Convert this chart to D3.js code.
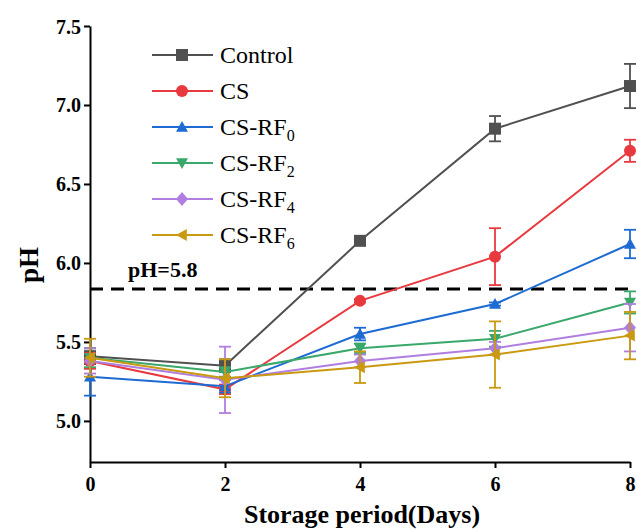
<!DOCTYPE html>
<html>
<head>
<meta charset="utf-8">
<script src="https://cdn.jsdelivr.net/npm/d3@7"></script>
<style>
  body { margin: 0; background: #fff; }
  svg text { font-family: 'Liberation Serif', 'Times New Roman', Times, 'DejaVu Serif', serif; }
</style>
</head>
<body>
<svg id="chart" width="636" height="530"></svg>
<script>
const FONT = "'Liberation Serif', 'Times New Roman', Times, 'DejaVu Serif', serif";

// storage days
const days = [0, 2, 4, 6, 8];
const seriesNames = ['Control', 'CS', 'CS-RF0', 'CS-RF2', 'CS-RF4', 'CS-RF6'];
const seriesColors = ['#505050', '#e8393f', '#1d6bd3', '#3aa86b', '#b07ee0', '#c99a10'];
const seriesSymbols = ['square', 'circle', 'up', 'down', 'diamond', 'left'];

// mean pH values
const controlPH = [5.41, 5.35, 6.14, 6.85, 7.12];
const csPH = [5.38, 5.20, 5.76, 6.04, 6.71];
const rf0PH = [5.28, 5.22, 5.55, 5.74, 6.12];
const rf2PH = [5.40, 5.31, 5.46, 5.52, 5.75];
const rf4PH = [5.38, 5.26, 5.38, 5.46, 5.59];
const rf6PH = [5.40, 5.27, 5.34, 5.42, 5.54];

// standard deviations
const controlErr = [0.05, 0.04, 0.01, 0.08, 0.14];
const csErr = [0.05, 0.03, 0.01, 0.18, 0.07];
const rf0Err = [0.12, 0.04, 0.04, 0.01, 0.09];
const rf2Err = [0.06, 0.03, 0.03, 0.05, 0.07];
const rf4Err = [0.08, 0.21, 0.04, 0.04, 0.15];
const rf6Err = [0.12, 0.12, 0.10, 0.21, 0.15];

const yTicks = [5.0, 5.5, 6.0, 6.5, 7.0, 7.5];
const xTicks = [0, 2, 4, 6, 8];
const threshold = 5.835;
const thresholdLabel = 'pH=5.8';

const allMeans = [controlPH, csPH, rf0PH, rf2PH, rf4PH, rf6PH];
const allErrs = [controlErr, csErr, rf0Err, rf2Err, rf4Err, rf6Err];

const series = seriesNames.map((name, i) => ({
  name: name,
  color: seriesColors[i],
  symbol: seriesSymbols[i],
  values: days.map((d, j) => ({ day: d, v: allMeans[i][j], e: allErrs[i][j] }))
}));

const svg = d3.select('#chart');

const x = d3.scaleLinear().domain([0, 8]).range([90, 630]);
const y = d3.scaleLinear().domain([4.74, 7.5]).range([462, 26]);

// symbol shapes
let symbolPath = (type, size) => {
  const h = size / 2;
  if (type == 'square') return `M${-h},${-h}H${h}V${h}H${-h}Z`;
  if (type == 'circle') return d3.symbol(d3.symbolCircle, Math.PI * h * h)();
  if (type == 'up') return `M0,${-h}L${h},${h * 0.8}L${-h},${h * 0.8}Z`;
  if (type == 'down') return `M0,${h}L${h},${-h * 0.8}L${-h},${-h * 0.8}Z`;
  if (type == 'diamond') return `M0,${-h * 1.15}L${h},0L0,${h * 1.15}L${-h},0Z`;
  return `M${-h},0L${h * 0.8},${-h}L${h * 0.8},${h}Z`;
};

// axes
const yAxis = svg.append('g')
  .attr('transform', 'translate(90,0)')
  .call(d3.axisLeft(y).tickValues(yTicks).tickFormat(d3.format('.1f')).tickSize(6).tickSizeOuter(0));
const xAxis = svg.append('g')
  .attr('transform', 'translate(0,462)')
  .call(d3.axisBottom(x).tickValues(xTicks).tickFormat(d3.format('d')).tickSize(6).tickSizeOuter(0));

[yAxis, xAxis].forEach(ax => {
  ax.attr('font-family', null);
  ax.select('.domain').attr('stroke', '#000').attr('stroke-width', 2);
  ax.selectAll('.tick line').attr('stroke', '#000').attr('stroke-width', 2);
  ax.selectAll('.tick text')
    .attr('fill', '#000')
    .style('font-family', FONT)
    .style('font-weight', 'bold')
    .style('font-size', '20px');
});
yAxis.selectAll('.tick text').attr('x', -9).attr('dy', '0.35em');
xAxis.selectAll('.tick text').attr('y', 15).attr('dy', '0.71em');

// axis titles
svg.append('text')
  .attr('x', 362).attr('y', 523)
  .attr('text-anchor', 'middle')
  .style('font-family', FONT)
  .style('font-weight', 'bold').style('font-size', '26px')
  .text('Storage period(Days)');
svg.append('text')
  .attr('transform', 'translate(38,265) rotate(-90)')
  .attr('text-anchor', 'middle')
  .style('font-family', FONT)
  .style('font-weight', 'bold').style('font-size', '27px')
  .text('pH');

// threshold line
svg.append('line')
  .attr('x1', x(0)).attr('x2', x(8))
  .attr('y1', y(threshold)).attr('y2', y(threshold))
  .attr('stroke', '#000').attr('stroke-width', 3)
  .attr('stroke-dasharray', '13,8');
svg.append('text')
  .attr('x', 128).attr('y', y(threshold) - 12)
  .style('font-family', FONT)
  .style('font-weight', 'bold').style('font-size', '22px')
  .text(thresholdLabel);

// lines, error bars, markers
const line = d3.line().x(d => x(d.day)).y(d => y(d.v));
const plot = svg.append('g');

series.forEach(s => {
  const g = plot.append('g');
  g.append('path')
    .datum(s.values)
    .attr('fill', 'none')
    .attr('stroke', s.color)
    .attr('stroke-width', 2)
    .attr('d', line);

  const eb = g.selectAll('.err').data(s.values).enter().append('g');
  eb.append('line')
    .attr('x1', d => x(d.day)).attr('x2', d => x(d.day))
    .attr('y1', d => y(d.v - d.e)).attr('y2', d => y(d.v + d.e))
    .attr('stroke', s.color).attr('stroke-width', 1.8);
  eb.append('line')
    .attr('x1', d => x(d.day) - 6).attr('x2', d => x(d.day) + 6)
    .attr('y1', d => y(d.v + d.e)).attr('y2', d => y(d.v + d.e))
    .attr('stroke', s.color).attr('stroke-width', 1.8);
  eb.append('line')
    .attr('x1', d => x(d.day) - 6).attr('x2', d => x(d.day) + 6)
    .attr('y1', d => y(d.v - d.e)).attr('y2', d => y(d.v - d.e))
    .attr('stroke', s.color).attr('stroke-width', 1.8);

  g.selectAll('.mark').data(s.values).enter().append('path')
    .attr('transform', d => `translate(${x(d.day)},${y(d.v)})`)
    .attr('d', symbolPath(s.symbol, 12))
    .attr('fill', s.color);
});

// legend
const legend = svg.append('g').attr('transform', 'translate(152,55)');
series.forEach((s, i) => {
  const row = legend.append('g').attr('transform', `translate(0,${i * 36})`);
  row.append('line')
    .attr('x1', 0).attr('x2', 61).attr('y1', 0).attr('y2', 0)
    .attr('stroke', s.color).attr('stroke-width', 2);
  row.append('path')
    .attr('transform', 'translate(30,0)')
    .attr('d', symbolPath(s.symbol, 12))
    .attr('fill', s.color);
  const t = row.append('text')
    .attr('x', 68).attr('y', 8)
    .style('font-family', FONT)
    .style('font-size', '24px');
  const m = s.name.match(/^(CS-RF)(\d)$/);
  if (m) {
    t.append('tspan').text(m[1]);
    t.append('tspan').attr('dy', 6).style('font-size', '16px').text(m[2]);
  } else {
    t.text(s.name);
  }
});
</script>
</body>
</html>
